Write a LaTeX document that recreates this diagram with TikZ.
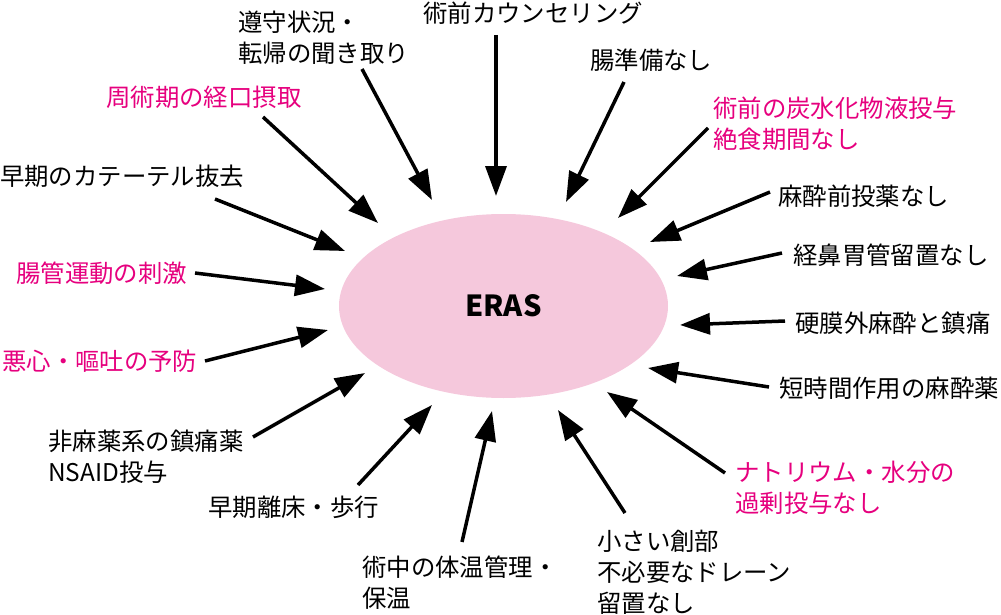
\documentclass[tikz,border=0pt]{standalone}
\usepackage{fontspec}
\setmainfont{Noto Sans CJK JP}
\usetikzlibrary{arrows.meta,shapes.geometric}

\definecolor{erasmag}{RGB}{230,0,126}
\definecolor{eraspink}{RGB}{245,200,220}

\begin{document}
\begin{tikzpicture}[x=1pt, y=-1pt,
    lbl/.style={anchor=base west, inner sep=0pt, align=left, font=\fontsize{24.4}{31}\selectfont},
    hot/.style={lbl, text=erasmag},
    arrow/.style={-{Triangle[length=30pt, width=21pt]}, line width=3.5pt}
  ]
    \useasboundingbox (0,0) rectangle (1001,615);

    % centre
    \node[ellipse, fill=eraspink, minimum width=329pt, minimum height=184pt, inner sep=0pt,
          font=\fontsize{29}{32}\selectfont\bfseries] (eras) at (503.5,306) {ERAS};

    % labels (multi-line: base = last line)
    \node[lbl] (hearing) at (238,63) {遵守状況・\\転帰の聞き取り};
    \node[lbl] (counsel) at (423,23) {術前カウンセリング};
    \node[hot] (oral) at (106,107) {周術期の経口摂取};
    \node[lbl] (bowelprep) at (590,70) {腸準備なし};
    \node[hot] (carbo) at (713,149) {術前の炭水化物液投与\\絶食期間なし};
    \node[lbl] (catheter) at (0,185) {早期のカテーテル抜去};
    \node[lbl] (premed) at (778,205) {麻酔前投薬なし};
    \node[lbl] (ngtube) at (793,264) {経鼻胃管留置なし};
    \node[hot] (motility) at (16,282) {腸管運動の刺激};
    \node[lbl] (epidural) at (795,332) {硬膜外麻酔と鎮痛};
    \node[hot] (ponv) at (2,370) {悪心・嘔吐の予防};
    \node[lbl] (shortact) at (779,397) {短時間作用の麻酔薬};
    \node[lbl] (nsaid) at (48,481) {非麻薬系の鎮痛薬\\NSAID投与};
    \node[hot] (fluid) at (735,512) {ナトリウム・水分の\\過剰投与なし};
    \node[lbl] (mobil) at (208,516) {早期離床・歩行};
    \node[lbl] (warm) at (362,607) {術中の体温管理・\\保温};
    \node[lbl] (incision) at (597,612) {小さい創部\\不必要なドレーン\\留置なし};

    % arrow ends
    \coordinate (hearing-s) at (362,69);   \coordinate (hearing-t) at (432,200);
    \coordinate (counsel-s) at (496,35);   \coordinate (counsel-t) at (496,196);
    \coordinate (oral-s) at (263,117);     \coordinate (oral-t) at (378,223);
    \coordinate (bowelprep-s) at (624,82); \coordinate (bowelprep-t) at (566,202);
    \coordinate (carbo-s) at (708,128);    \coordinate (carbo-t) at (618,218);
    \coordinate (catheter-s) at (215,199); \coordinate (catheter-t) at (345,251);
    \coordinate (premed-s) at (770,192);   \coordinate (premed-t) at (650,242);
    \coordinate (ngtube-s) at (782,253);   \coordinate (ngtube-t) at (677,276);
    \coordinate (motility-s) at (195,273); \coordinate (motility-t) at (325,289);
    \coordinate (epidural-s) at (785,321); \coordinate (epidural-t) at (680,325);
    \coordinate (ponv-s) at (205,361);     \coordinate (ponv-t) at (328,330);
    \coordinate (shortact-s) at (769,387); \coordinate (shortact-t) at (648,368);
    \coordinate (nsaid-s) at (253,437);    \coordinate (nsaid-t) at (365,373);
    \coordinate (fluid-s) at (725,473);    \coordinate (fluid-t) at (607,392);
    \coordinate (mobil-s) at (358,485);    \coordinate (mobil-t) at (432,405);
    \coordinate (warm-s) at (462,542);     \coordinate (warm-t) at (492,411);
    \coordinate (incision-s) at (625,513); \coordinate (incision-t) at (558,410);

    \foreach \n in {hearing,counsel,oral,bowelprep,carbo,catheter,premed,ngtube,motility,
                    epidural,ponv,shortact,nsaid,fluid,mobil,warm,incision}
      \draw[arrow] (\n-s) -- (\n-t);
  \end{tikzpicture}
\end{document}
